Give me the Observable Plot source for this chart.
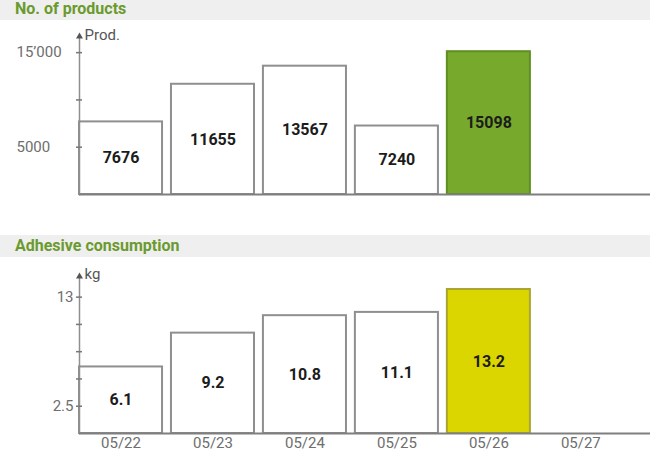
<!DOCTYPE html>
<html>
<head>
<meta charset="utf-8">
<script src="https://cdn.jsdelivr.net/npm/d3@7"></script>
<script src="https://cdn.jsdelivr.net/npm/@observablehq/plot@0.6"></script>
<style>
  html, body { margin: 0; padding: 0; background: #fff; }
  body { width: 650px; height: 453px; overflow: hidden; font-family: Roboto, "Noto Sans", sans-serif; }
  .band { background: #efefef; color: #6b9a2e; font-weight: bold; font-size: 16px; padding-left: 15px; box-sizing: border-box; }
  #t1 { height: 20px; line-height: 17px; }
  #t2 { height: 22px; line-height: 22px; }
  svg { display: block; }
</style>
</head>
<body>
<div class="band" id="t1">No. of products</div>
<div id="p1"></div>
<div class="band" id="t2">Adhesive consumption</div>
<div id="p2"></div>
<script>
const dates = ["05/22", "05/23", "05/24", "05/25", "05/26", "05/27"];
const products = [7676, 11655, 13567, 7240, 15098];
const adhesive = [6.1, 9.2, 10.8, 11.1, 13.2];
const highlightDate = "05/26";
const prodTicks = [5000, 10000, 15000];
const prodTickLabels = ["5000", "", "15’000"];
const adhTicks = [2.5, 5, 7.5, 10, 12.5];
const adhTickLabels = ["2.5", "", "", "", "13"];
const prodUnit = "Prod.";
const adhUnit = "kg";

const prodData = products.map((v, i) => ({date: dates[i], value: v, label: String(v)}));
const adhData = adhesive.map((v, i) => ({date: dates[i], value: v, label: String(v)}));

function panel({data, height, marginTop, marginBottom, yMax, ticks, tickLabels, unit, unitDy, hiFill, hiStroke, showX, labelAnchor, labelDx}) {
  const gray = "#8f8f8f";
  return Plot.plot({
    width: 650,
    height,
    marginLeft: 79,
    marginRight: 0,
    marginTop,
    marginBottom,
    style: {fontFamily: "Roboto, 'Noto Sans', sans-serif", fontSize: "15px", background: "white"},
    x: {type: "band", domain: dates, paddingInner: 0.097, paddingOuter: 0.153, align: 0, round: false, axis: null},
    y: {domain: [0, yMax], axis: null},
    marks: [
      Plot.barY(data, {
        x: "date", y: "value",
        fill: d => d.date === highlightDate ? hiFill : "white",
        stroke: d => d.date === highlightDate ? hiStroke : gray,
        strokeWidth: 2
      }),
      Plot.frame({anchor: "left", stroke: gray, strokeWidth: 1.5}),
      Plot.ruleY([0], {stroke: "#7f7f7f", strokeWidth: 2}),
      Plot.axisY({ticks, label: null, tickSize: 6, dx: 3, tickFormat: () => "", stroke: "#777", strokeWidth: 1.5}),
      Plot.text(ticks, {y: d => d, text: (d, i) => tickLabels[i], frameAnchor: "left", textAnchor: labelAnchor, dx: labelDx, fill: "#6e6e6e", fontSize: 15}),
      Plot.dot([0], {frameAnchor: "top-left", symbol: "triangle", r: 2.6, fill: "#555", stroke: null, dy: -1}),
      Plot.text([unit], {frameAnchor: "top-left", text: d => d, textAnchor: "start", lineAnchor: "middle", dx: 5, dy: unitDy, fill: "#555", fontSize: 15}),
      Plot.text(data, {
        x: "date", y: d => d.value / 2, text: "label",
        fill: "#1c1c1c", fontWeight: "bold", fontSize: 16
      }),
      ...(showX ? [Plot.axisX({domain: dates, label: null, tickSize: 0, tickPadding: 4, fill: "#6e6e6e", fontSize: 15})] : [])
    ]
  });
}

document.getElementById("p1").append(panel({
  data: prodData, height: 215, marginTop: 17, marginBottom: 41, yMax: 16600,
  ticks: prodTicks, tickLabels: prodTickLabels, unit: prodUnit, unitDy: -2,
  hiFill: "#77a92d", hiStroke: "#5f8f22", showX: false, labelAnchor: "start", labelDx: -63
}));
document.getElementById("p2").append(panel({
  data: adhData, height: 196, marginTop: 20, marginBottom: 20, yMax: 14.3,
  ticks: adhTicks, tickLabels: adhTickLabels, unit: adhUnit, unitDy: -3,
  hiFill: "#dcd600", hiStroke: "#aaa52e", showX: true, labelAnchor: "end", labelDx: -6
}));
</script>
</body>
</html>
